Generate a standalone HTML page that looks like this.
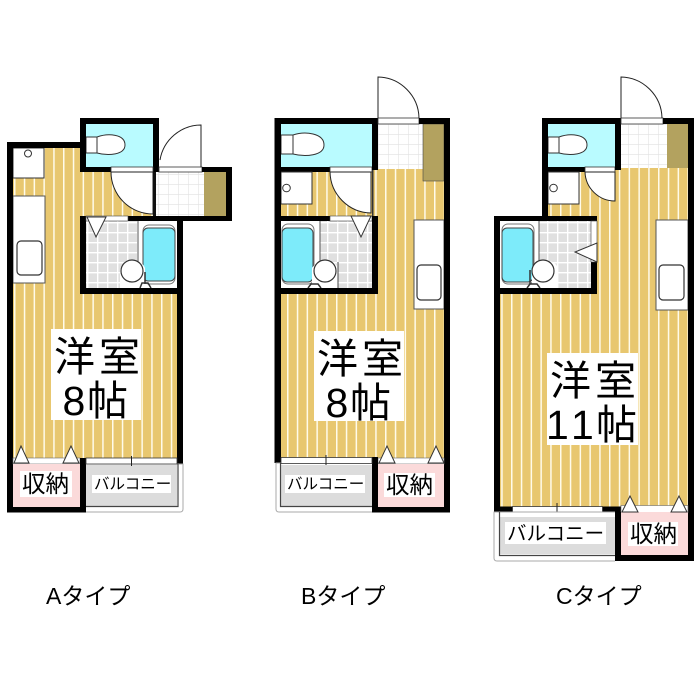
<!DOCTYPE html>
<html><head><meta charset="utf-8"><style>
html,body{margin:0;padding:0;background:#fff}
svg{display:block}
text{font-family:"Liberation Sans","Noto Sans CJK JP",sans-serif;fill:#000}
</style></head><body>
<svg width="700" height="700" viewBox="0 0 700 700" xmlns="http://www.w3.org/2000/svg">
<defs>
<pattern id="fa" width="9.8" height="10" patternUnits="userSpaceOnUse" x="14"><rect width="9.8" height="10" fill="#e8c76f"/><rect width="1.5" height="10" fill="#fffbea"/></pattern>
<pattern id="fb" width="9.8" height="10" patternUnits="userSpaceOnUse" x="287"><rect width="9.8" height="10" fill="#e8c76f"/><rect width="1.5" height="10" fill="#fffbea"/></pattern>
<pattern id="fc" width="9.8" height="10" patternUnits="userSpaceOnUse" x="511"><rect width="9.8" height="10" fill="#e8c76f"/><rect width="1.5" height="10" fill="#fffbea"/></pattern>
<pattern id="tg" width="10" height="10" patternUnits="userSpaceOnUse" x="87" y="222"><rect width="10" height="10" fill="#fff"/><rect x="1.4" y="1.4" width="8.600" height="8.600" fill="#e0e0e0"/></pattern>
<pattern id="tl" width="10" height="10" patternUnits="userSpaceOnUse" x="158" y="124"><rect width="10" height="10" fill="#fff"/><path d="M0 0H10M0 0V10" stroke="#e2e2e2" stroke-width="1.2" fill="none"/></pattern>
</defs>

<!-- ========== PLAN A ========== -->
<path d="M13 148H86V172H156V216H86V294H177V460H13Z" fill="url(#fa)"/>
<!-- washer & counter -->
<rect x="13" y="148" width="31" height="30" fill="#fff" stroke="#333"/>
<circle cx="28" cy="153.500" r="3.500" fill="#fff" stroke="#333"/>
<rect x="13" y="196" width="32" height="87" fill="#fff" stroke="#555"/>
<rect x="17" y="241" width="25" height="34" rx="4" fill="#fff" stroke="#333" stroke-width="1.200"/>
<!-- toilet -->
<rect x="86" y="124" width="67" height="43" fill="#b9fbff"/>
<rect x="86" y="137" width="11" height="16" fill="#fff" stroke="#333"/>
<path d="M97 137C108 133 125 134 125 145C125 155 108 156 97 153Z" fill="#fff" stroke="#333"/>
<rect x="80" y="118" width="79" height="6" fill="#000"/>
<rect x="80" y="118" width="6" height="54" fill="#000"/>
<rect x="153" y="118" width="6" height="54" fill="#000"/>
<rect x="80" y="167" width="31" height="5" fill="#000"/>
<rect x="111" y="167" width="42" height="5" fill="#fff" stroke="#333" stroke-width="0.800"/>
<path d="M111 172A42 42 0 0 0 153 214V172Z" fill="#fff" stroke="#222"/>
<!-- entry -->
<rect x="156" y="172" width="48" height="44" fill="url(#tl)"/>
<rect x="204" y="172" width="22" height="44" fill="#b3a25f"/>
<rect x="153" y="172" width="3" height="44" fill="#111"/>
<rect x="159" y="167" width="43" height="5" fill="#fff" stroke="#333" stroke-width="0.800"/>
<path d="M160 160A42 42 0 0 1 201 125V167" fill="none" stroke="#222"/>
<rect x="202" y="167" width="30" height="5" fill="#000"/>
<rect x="226" y="167" width="6" height="54" fill="#000"/>
<rect x="128" y="216" width="104" height="5" fill="#000"/>
<!-- bath -->
<rect x="86" y="221" width="91" height="67" fill="url(#tg)"/>
<rect x="138" y="221" width="39" height="67" fill="#fff"/>
<path d="M138 221V270" stroke="#555"/>
<rect x="143" y="225" width="32" height="59" rx="6" fill="#fff" stroke="#777"/>
<rect x="143" y="228" width="32" height="53" rx="5" fill="#7debfa" stroke="#444"/>
<path d="M120 288V270C122 258 140 256 145 268V288Z" fill="#fff"/>
<circle cx="132" cy="271" r="11" fill="#fff" stroke="#333" stroke-width="1.200"/>
<path d="M145 272V284M140 288L142 283H148L151 288" stroke="#333" fill="none" stroke-width="1.500"/>
<rect x="80" y="216" width="6" height="78" fill="#000"/>
<rect x="177" y="216" width="6" height="78" fill="#000"/>
<rect x="80" y="288" width="103" height="6" fill="#000"/>
<rect x="86" y="216" width="42" height="5" fill="#fff" stroke="#444" stroke-width="0.600"/>
<path d="M87 217H106L96 237Z" fill="#fff" stroke="#333"/>
<!-- outer walls -->
<rect x="7" y="142" width="73" height="6" fill="#000"/>
<rect x="7" y="142" width="6" height="370" fill="#000"/>
<rect x="177" y="294" width="6" height="170" fill="#000"/>
<!-- label -->
<rect x="51" y="329" width="90" height="91" fill="#fff"/>
<text x="54" y="371" font-size="41" letter-spacing="4">洋室</text>
<text font-size="41" y="415"><tspan x="62.500">8</tspan><tspan x="87">帖</tspan></text>
<!-- closet -->
<rect x="13" y="458" width="67" height="6" fill="#fff" stroke="#666" stroke-width="0.600"/>
<rect x="13" y="464" width="67" height="43" fill="#fbdada"/>
<path d="M21 446L14 463H29ZM71 446L63 463H79Z" fill="#fff" stroke="#333"/>
<rect x="20" y="471" width="52" height="26" fill="#fff"/>
<text x="22" y="492" font-size="23.500">収納</text>
<rect x="7" y="507" width="79" height="5.500" fill="#000"/>
<rect x="80" y="458" width="6" height="54" fill="#000"/>
<!-- balcony -->
<path d="M86 464H183V509Q183 512 180 512H86" fill="#fff" stroke="#aaa"/>
<rect x="86" y="465" width="91" height="41" fill="#dcdcdc"/>
<path d="M86 506.500H178V464" fill="none" stroke="#444" stroke-width="1.200"/>
<rect x="86" y="458" width="91" height="6" fill="#fff" stroke="#333" stroke-width="0.800"/>
<path d="M131.500 456V466" stroke="#222"/>
<rect x="92" y="475" width="79" height="18" fill="#fff"/>
<text x="94" y="489" font-size="15.500">バルコニー</text>

<!-- ========== PLAN B ========== -->
<rect x="281" y="124" width="163" height="336" fill="url(#fb)"/>
<rect x="414" y="220" width="30" height="89" fill="#fff" stroke="#555"/>
<rect x="417" y="265" width="24" height="35" rx="4" fill="#fff" stroke="#333" stroke-width="1.200"/>
<!-- toilet -->
<rect x="281" y="124" width="91" height="43" fill="#b9fbff"/>
<rect x="281" y="135" width="12" height="19" fill="#fff" stroke="#333"/>
<path d="M293 135C305 131 324 133 324 145C324 156 305 157 293 154Z" fill="#fff" stroke="#333"/>
<rect x="281" y="167" width="49" height="5" fill="#000"/>
<rect x="330" y="167" width="42" height="5" fill="#fff" stroke="#333" stroke-width="0.800"/>
<rect x="372" y="118" width="6" height="52" fill="#000"/>
<rect x="372" y="170" width="1.500" height="46" fill="#333"/>
<!-- closet -->
<rect x="281" y="172" width="31" height="32" fill="#fff" stroke="#333"/>
<circle cx="286.500" cy="188" r="3.800" fill="#fff" stroke="#333"/>
<path d="M330 172A42 42 0 0 0 371 213V172Z" fill="#fff" stroke="#222"/>
<!-- entry -->
<rect x="378" y="124" width="45" height="45" fill="url(#tl)"/>
<rect x="423" y="124" width="21" height="57" fill="#b3a25f" stroke="#444" stroke-width="0.600"/>
<rect x="378" y="118" width="41" height="6" fill="#fff" stroke="#333" stroke-width="0.800"/>
<path d="M378 118V77A42 42 0 0 1 419 118" fill="none" stroke="#222"/>
<!-- bath -->
<rect x="281" y="221" width="91" height="67" fill="url(#tg)"/>
<rect x="281" y="221" width="39" height="67" fill="#fff"/>
<path d="M320 221V270" stroke="#555"/>
<rect x="282" y="224" width="32" height="60" rx="6" fill="#fff" stroke="#777"/>
<rect x="282" y="228" width="31" height="54" rx="5" fill="#7debfa" stroke="#444"/>
<path d="M312 288V268C320 256 338 260 338 270V288Z" fill="#fff"/>
<circle cx="325" cy="271" r="11" fill="#fff" stroke="#333" stroke-width="1.200"/>
<path d="M338 262V288" stroke="#444"/>
<path d="M308 288L311 284H318L321 288" stroke="#333" fill="none" stroke-width="1.500"/>
<rect x="274.500" y="216" width="103.500" height="5" fill="#000"/>
<rect x="330" y="216" width="42" height="5" fill="#fff" stroke="#444" stroke-width="0.600"/>
<path d="M351 216H371L361 237Z" fill="#fff" stroke="#333"/>
<rect x="372" y="216" width="6" height="78" fill="#000"/>
<rect x="274.500" y="288" width="103.500" height="6" fill="#000"/>
<!-- outer walls -->
<rect x="274.500" y="118" width="97.500" height="6" fill="#000"/>
<rect x="419" y="118" width="31" height="6" fill="#000"/>
<rect x="274.500" y="118" width="6.500" height="345" fill="#000"/>
<rect x="444" y="118" width="6" height="394" fill="#000"/>
<!-- label -->
<rect x="314" y="331" width="90" height="90" fill="#fff"/>
<text x="317" y="373" font-size="41" letter-spacing="4">洋室</text>
<text font-size="41" y="417"><tspan x="325.500">8</tspan><tspan x="350">帖</tspan></text>
<!-- closet -->
<rect x="378" y="458" width="66" height="6" fill="#fff" stroke="#666" stroke-width="0.600"/>
<rect x="378" y="464" width="66" height="43" fill="#fbdada"/>
<path d="M387 446L379 463H395ZM436 446L428 463H444Z" fill="#fff" stroke="#333"/>
<rect x="384" y="473" width="51" height="24" fill="#fff"/>
<text x="386" y="493" font-size="23.500">収納</text>
<rect x="372" y="507" width="78" height="5.500" fill="#000"/>
<rect x="372" y="457" width="6" height="55" fill="#000"/>
<!-- balcony -->
<path d="M372 512H279Q276 512 276 509V463H372" fill="#fff" stroke="#aaa"/>
<rect x="281" y="465" width="91" height="41" fill="#dcdcdc"/>
<path d="M372 506.500H280.500V463" fill="none" stroke="#444" stroke-width="1.200"/>
<rect x="281" y="457.500" width="91" height="6" fill="#fff" stroke="#333" stroke-width="0.800"/>
<path d="M326 455V465" stroke="#222"/>
<rect x="285" y="475" width="80" height="18" fill="#fff"/>
<text x="287" y="489" font-size="15.500">バルコニー</text>

<!-- ========== PLAN C ========== -->
<rect x="500" y="216" width="188" height="292" fill="url(#fc)"/>
<rect x="548" y="124" width="140" height="95" fill="url(#fc)"/>
<rect x="656" y="220" width="32" height="90" fill="#fff" stroke="#555"/>
<rect x="659" y="265" width="25" height="35" rx="4" fill="#fff" stroke="#333" stroke-width="1.200"/>
<!-- toilet -->
<rect x="548" y="124" width="67" height="43" fill="#b9fbff"/>
<rect x="548" y="137" width="11" height="16" fill="#fff" stroke="#333"/>
<path d="M559 137C570 133 587 134 587 145C587 155 570 156 559 153Z" fill="#fff" stroke="#333"/>
<rect x="548" y="167" width="37" height="5" fill="#000"/>
<rect x="585" y="167" width="30" height="5" fill="#fff" stroke="#333" stroke-width="0.800"/>
<rect x="615" y="118" width="6" height="52" fill="#000"/>
<!-- closet -->
<rect x="548" y="172" width="31" height="32" fill="#fff" stroke="#333"/>
<circle cx="553.500" cy="188" r="3.800" fill="#fff" stroke="#333"/>
<path d="M585 172A30 30 0 0 0 615 201V172Z" fill="#fff" stroke="#222"/>
<!-- entry -->
<rect x="621" y="124" width="46" height="44" fill="url(#tl)"/>
<rect x="667" y="124" width="21" height="44" fill="#b3a25f"/>
<rect x="621" y="118" width="42" height="6" fill="#fff" stroke="#333" stroke-width="0.800"/>
<path d="M621 118V77A42 42 0 0 1 662 118" fill="none" stroke="#222"/>
<!-- bath -->
<rect x="500" y="221" width="91" height="67" fill="url(#tg)"/>
<rect x="500" y="221" width="39" height="67" fill="#fff"/>
<path d="M539 221V270" stroke="#555"/>
<rect x="502" y="224" width="32" height="60" rx="6" fill="#fff" stroke="#777"/>
<rect x="502" y="228" width="31" height="54" rx="5" fill="#7debfa" stroke="#444"/>
<path d="M532 288V268C540 256 558 260 558 270V288Z" fill="#fff"/>
<circle cx="543" cy="271" r="11" fill="#fff" stroke="#333" stroke-width="1.200"/>
<path d="M530 270V284M527 288L530 284H537L540 288" stroke="#333" fill="none" stroke-width="1.500"/>
<rect x="494" y="216" width="103" height="5" fill="#000"/>
<rect x="591" y="216" width="6" height="78" fill="#000"/>
<rect x="591" y="221" width="6" height="41" fill="#fff" stroke="#444" stroke-width="0.600"/>
<path d="M597 243V262L575 252Z" fill="#fff" stroke="#333"/>
<rect x="494" y="288" width="103" height="6" fill="#000"/>
<!-- outer walls -->
<rect x="542" y="118" width="73" height="6" fill="#000"/>
<rect x="663" y="118" width="31" height="6" fill="#000"/>
<rect x="542" y="118" width="6" height="98" fill="#000"/>
<rect x="688" y="118" width="6" height="443" fill="#000"/>
<rect x="494" y="216" width="6" height="296" fill="#000"/>
<!-- label -->
<rect x="547" y="353" width="91" height="92" fill="#fff"/>
<text x="550" y="395" font-size="41" letter-spacing="4">洋室</text>
<text font-size="41" y="439"><tspan x="546">1</tspan><tspan x="571">1</tspan><tspan x="596">帖</tspan></text>
<!-- wall + window -->
<rect x="494" y="506.500" width="127" height="5.500" fill="#000"/>
<rect x="512.500" y="506.500" width="90" height="6" fill="#fff" stroke="#333" stroke-width="0.800"/>
<path d="M557 503V515" stroke="#222"/>
<!-- closet -->
<rect x="621" y="505.500" width="67" height="7" fill="#fff" stroke="#666" stroke-width="0.600"/>
<rect x="621" y="512" width="67" height="43" fill="#fbdada"/>
<path d="M630 496L622 512H638ZM679 496L671 512H687Z" fill="#fff" stroke="#333"/>
<rect x="628" y="522" width="50" height="24" fill="#fff"/>
<text x="630" y="542" font-size="23.500">収納</text>
<rect x="615" y="555" width="79" height="6" fill="#000"/>
<rect x="615" y="512" width="6" height="49" fill="#000"/>
<!-- balcony -->
<path d="M615 561H497Q494 561 494 558V512H615" fill="#fff" stroke="#aaa"/>
<rect x="500" y="517" width="115" height="37" fill="#dcdcdc"/>
<path d="M615 555.500H499.500V512" fill="none" stroke="#444" stroke-width="1.200"/>
<rect x="505" y="522" width="101" height="22" fill="#fff"/>
<text x="507" y="540" font-size="19.500">バルコニー</text>

<!-- captions -->
<text x="46" y="604" font-size="23">Aタイプ</text>
<text x="301" y="604" font-size="23">Bタイプ</text>
<text x="556" y="604" font-size="23">Cタイプ</text>
</svg>
</body></html>
